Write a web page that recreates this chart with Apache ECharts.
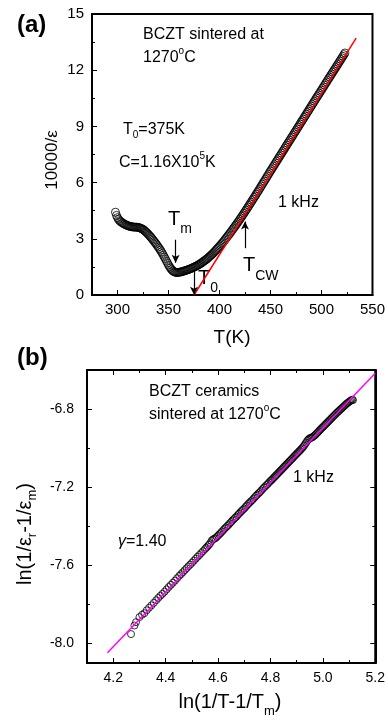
<!DOCTYPE html>
<html>
<head>
<meta charset="utf-8">
<script src="https://cdn.jsdelivr.net/npm/echarts@6/dist/echarts.min.js"></script>
<style>
  html, body { margin: 0; padding: 0; background: #fff; }
  #chart { width: 388px; height: 724px; }
</style>
</head>
<body>
<div id="chart"></div>
<script>
// ---------- Panel (a): 10000/ε vs temperature at 1 kHz ----------
const tempK = [
  298, 299, 300, 301, 302, 303, 304, 305, 306, 307, 308, 309, 310, 311, 312, 313, 314, 315, 316, 317,
  318, 319, 320, 321, 322, 323, 324, 325, 326, 327, 328, 329, 330, 331, 332, 333, 334, 335, 336, 337,
  338, 339, 340, 341, 342, 343, 344, 345, 346, 347, 348, 349, 350, 351, 352, 353, 354, 355, 356, 357,
  358, 359, 360, 361, 362, 363, 364, 365, 366, 367, 368, 369, 370, 371, 372, 373, 374, 375, 376, 377,
  378, 379, 380, 381, 382, 383, 384, 385, 386, 387, 388, 389, 390, 391, 392, 393, 394, 395, 396, 397,
  398, 399, 400, 401, 402, 403, 404, 405, 406, 407, 408, 409, 410, 411, 412, 413, 414, 415, 416, 417,
  418, 419, 420, 421, 422, 423, 424, 425, 426, 427, 428, 429, 430, 431, 432, 433, 434, 435, 436, 437,
  438, 439, 440, 441, 442, 443, 444, 445, 446, 447, 448, 449, 450, 451, 452, 453, 454, 455, 456, 457,
  458, 459, 460, 461, 462, 463, 464, 465, 466, 467, 468, 469, 470, 471, 472, 473, 474, 475, 476, 477,
  478, 479, 480, 481, 482, 483, 484, 485, 486, 487, 488, 489, 490, 491, 492, 493, 494, 495, 496, 497,
  498, 499, 500, 501, 502, 503, 504, 505, 506, 507, 508, 509, 510, 511, 512, 513, 514, 515, 516, 517,
  518, 519, 520, 521, 522, 523];
const invEps = [
  4.42, 4.25, 4.13, 4.04, 3.97, 3.92, 3.88, 3.84, 3.81, 3.78, 3.75, 3.73, 3.70, 3.68, 3.67, 3.65, 3.64, 3.63, 3.63, 3.62,
  3.62, 3.62, 3.61, 3.60, 3.58, 3.56, 3.53, 3.50, 3.46, 3.41, 3.36, 3.31, 3.25, 3.19, 3.13, 3.07, 3.00, 2.93, 2.86, 2.79,
  2.72, 2.64, 2.56, 2.48, 2.40, 2.31, 2.22, 2.12, 2.02, 1.92, 1.81, 1.71, 1.60, 1.51, 1.43, 1.36, 1.30, 1.26, 1.23, 1.21,
  1.20, 1.20, 1.21, 1.22, 1.23, 1.24, 1.26, 1.28, 1.29, 1.31, 1.33, 1.35, 1.37, 1.39, 1.41, 1.44, 1.46, 1.49, 1.51, 1.54,
  1.57, 1.60, 1.63, 1.67, 1.70, 1.74, 1.78, 1.82, 1.86, 1.90, 1.94, 1.99, 2.04, 2.09, 2.14, 2.19, 2.24, 2.30, 2.36, 2.42,
  2.48, 2.54, 2.60, 2.66, 2.73, 2.79, 2.86, 2.93, 3.00, 3.07, 3.14, 3.21, 3.28, 3.35, 3.43, 3.50, 3.58, 3.65, 3.73, 3.80,
  3.88, 3.96, 4.04, 4.12, 4.20, 4.28, 4.36, 4.45, 4.53, 4.61, 4.70, 4.78, 4.87, 4.95, 5.04, 5.12, 5.21, 5.29, 5.38, 5.47,
  5.55, 5.64, 5.73, 5.82, 5.91, 6.00, 6.08, 6.17, 6.26, 6.35, 6.44, 6.53, 6.62, 6.70, 6.79, 6.88, 6.96, 7.05, 7.14, 7.22,
  7.31, 7.40, 7.48, 7.57, 7.66, 7.74, 7.83, 7.92, 8.00, 8.09, 8.18, 8.26, 8.35, 8.44, 8.52, 8.61, 8.70, 8.78, 8.87, 8.96,
  9.04, 9.13, 9.22, 9.30, 9.39, 9.48, 9.56, 9.65, 9.74, 9.82, 9.91, 10.00, 10.08, 10.17, 10.26, 10.34, 10.43, 10.52, 10.60, 10.69,
  10.77, 10.86, 10.94, 11.03, 11.11, 11.20, 11.29, 11.37, 11.46, 11.55, 11.63, 11.72, 11.80, 11.89, 11.97, 12.06, 12.14, 12.23, 12.31, 12.40,
  12.49, 12.57, 12.66, 12.74, 12.83, 12.92];
// Curie–Weiss line, T0 = 375 K, C = 1.16e5 K
const cwT = [375, 534];
const cwY = [0, 13.71];
// arrows: [T, from, to]
const arrowTm = [357, 2.95, 1.72];
const arrowT0 = [375, 1.35, 0.02];
const arrowTcw = [425, 2.5, 3.92];

// ---------- Panel (b): ln(1/ε_r − 1/ε_m) vs ln(T − T_m) ----------
const lnDT = [
  4.268, 4.281, 4.287, 4.300, 4.310, 4.319, 4.328, 4.337, 4.346, 4.355, 4.364, 4.372, 4.380, 4.388, 4.396, 4.404, 4.412, 4.420,
  4.428, 4.436, 4.444, 4.452, 4.459, 4.466, 4.473, 4.480, 4.487, 4.494, 4.501, 4.508, 4.515, 4.522, 4.529, 4.536, 4.543, 4.550,
  4.555, 4.560, 4.565, 4.570, 4.575, 4.580, 4.585, 4.590, 4.595, 4.600, 4.605, 4.610, 4.615, 4.620, 4.625, 4.630, 4.635, 4.640,
  4.645, 4.650, 4.655, 4.660, 4.665, 4.670, 4.675, 4.680, 4.685, 4.690, 4.695, 4.700, 4.705, 4.710, 4.715, 4.720, 4.725, 4.730,
  4.735, 4.740, 4.745, 4.750, 4.755, 4.760, 4.765, 4.770, 4.775, 4.780, 4.785, 4.790, 4.795, 4.800,
  4.804, 4.808, 4.812, 4.816, 4.820, 4.824, 4.828, 4.832, 4.836, 4.840, 4.844, 4.848, 4.852, 4.856, 4.860, 4.864, 4.868, 4.872,
  4.876, 4.880, 4.884, 4.888, 4.892, 4.896, 4.900, 4.904, 4.908, 4.912, 4.916, 4.920, 4.924, 4.928, 4.932, 4.936, 4.940, 4.944,
  4.948, 4.952, 4.956, 4.960, 4.964, 4.968, 4.972, 4.976, 4.980, 4.984, 4.988, 4.992, 4.996, 5.000, 5.004, 5.008, 5.012, 5.016,
  5.020, 5.024, 5.028, 5.032, 5.036, 5.040, 5.044, 5.048, 5.052, 5.056, 5.060, 5.064, 5.068, 5.072, 5.076, 5.080, 5.084, 5.088,
  5.092, 5.096, 5.100, 5.104, 5.108, 5.112, 5.115];
const lnDEps = [
  -7.952, -7.908, -7.891, -7.865, -7.853, -7.845, -7.830, -7.817, -7.805, -7.792, -7.779, -7.767, -7.756, -7.746, -7.735, -7.723, -7.711, -7.700,
  -7.689, -7.678, -7.666, -7.654, -7.645, -7.635, -7.625, -7.615, -7.605, -7.596, -7.586, -7.576, -7.566, -7.556, -7.547, -7.537, -7.527, -7.517,
  -7.510, -7.503, -7.495, -7.487, -7.475, -7.468, -7.464, -7.461, -7.455, -7.448, -7.441, -7.435, -7.427, -7.420, -7.412, -7.406, -7.399, -7.393,
  -7.385, -7.378, -7.370, -7.364, -7.357, -7.351, -7.343, -7.336, -7.328, -7.322, -7.315, -7.309, -7.301, -7.294, -7.286, -7.280, -7.273, -7.267,
  -7.259, -7.252, -7.244, -7.238, -7.231, -7.225, -7.217, -7.210, -7.202, -7.196, -7.189, -7.183, -7.175, -7.168,
  -7.164, -7.158, -7.152, -7.147, -7.141, -7.136, -7.130, -7.124, -7.119, -7.113, -7.108, -7.102, -7.096, -7.091, -7.085, -7.080, -7.074, -7.068,
  -7.063, -7.057, -7.052, -7.046, -7.040, -7.035, -7.029, -7.024, -7.018, -7.013, -7.007, -7.001, -6.995, -6.988, -6.980, -6.972, -6.963, -6.957,
  -6.951, -6.948, -6.947, -6.944, -6.940, -6.936, -6.931, -6.925, -6.920, -6.914, -6.908, -6.903, -6.897, -6.892, -6.887, -6.881, -6.876, -6.870,
  -6.865, -6.859, -6.854, -6.848, -6.843, -6.837, -6.832, -6.827, -6.821, -6.816, -6.811, -6.806, -6.801, -6.796, -6.791, -6.786, -6.781, -6.776,
  -6.771, -6.767, -6.763, -6.759, -6.755, -6.752, -6.754];
// linear fit, slope γ = 1.40
const fitX = [4.178, 5.2];
const fitY = [-8.048, -6.617];

// ---------- tick values ----------
const aXTicks = [300, 350, 400, 450, 500, 550];
const aXMinor = [325, 375, 425, 475, 525];
const bXTicks = [4.2, 4.4, 4.6, 4.8, 5.0, 5.2];
const bXMinor = [4.3, 4.5, 4.7, 4.9, 5.1];
const bYTicks = [-8.0, -7.6, -7.2, -6.8];
const bYMinor = [-7.8, -7.4, -7.0, -6.6];

const FONT = '"Liberation Sans", Arial, Helvetica, sans-serif';
const BLACK = '#000';

const measureCtx = document.createElement('canvas').getContext('2d');
function measure(text, font) { measureCtx.font = font; return measureCtx.measureText(text).width; }

// a run of text pieces [text, size, dy, style] laid out left to right
function textRun(pieces, x, y, anchor, rotation) {
  let w = 0;
  const kids = [];
  pieces.forEach(p => {
    const [t, size, dy = 0, style = ''] = p;
    const font = (style ? style + ' ' : '') + size + 'px ' + FONT;
    kids.push({ type: 'text', x: w, y: dy, style: { text: t, font: font, fill: BLACK, textAlign: 'left', textVerticalAlign: 'middle' } });
    w += measure(t, font);
  });
  if (anchor === 'center') kids.forEach(k => { k.x -= w / 2; });
  return { type: 'group', x: x, y: y, rotation: rotation || 0, silent: true, children: kids };
}

const lineCol = { color: BLACK, width: 2 };
const tickStyle = { color: BLACK, width: 1 };
function majorAxis(grid, pos, extra) {
  return Object.assign({
    type: 'value', gridIndex: grid, position: pos,
    axisLine: { show: true, onZero: false, lineStyle: lineCol },
    axisTick: { show: true, inside: true, length: 5, lineStyle: tickStyle },
    axisLabel: { show: false },
    splitLine: { show: false }
  }, extra);
}
function minorAxis(grid, pos, extra) {
  return Object.assign({
    type: 'value', gridIndex: grid, position: pos,
    axisLine: { show: false, onZero: false },
    axisTick: { show: true, inside: true, length: 3, lineStyle: tickStyle },
    axisLabel: { show: false },
    splitLine: { show: false }
  }, extra);
}
const fmt1 = v => v.toFixed(1);

const aX = { min: 275, max: 550 };
const bX = { min: 4.1, max: 5.2 };
const bY = { min: -8.1, max: -6.6 };

const option = {
  animation: false,
  backgroundColor: '#fff',
  textStyle: { fontFamily: FONT },
  grid: [
    { left: 92, top: 14, width: 283, height: 281, show: true, borderColor: BLACK, borderWidth: 2, backgroundColor: 'transparent' },
    { left: 87, top: 370, width: 290, height: 293, show: true, borderColor: BLACK, borderWidth: 2, backgroundColor: 'transparent' }
  ],
  xAxis: [
    majorAxis(0, 'bottom', Object.assign({}, aX, {
      axisTick: { show: true, inside: true, length: 5, customValues: aXTicks, lineStyle: tickStyle },
      axisLabel: { show: true, customValues: aXTicks, color: BLACK, fontSize: 15, margin: 7, fontFamily: FONT }
    })),
    minorAxis(0, 'bottom', Object.assign({}, aX, {
      axisTick: { show: true, inside: true, length: 3, customValues: aXMinor, lineStyle: tickStyle }
    })),
    majorAxis(1, 'bottom', Object.assign({}, bX, {
      axisTick: { show: true, inside: true, length: 5, customValues: bXTicks, lineStyle: tickStyle },
      axisLabel: { show: true, customValues: bXTicks, formatter: fmt1, color: BLACK, fontSize: 14, margin: 8, fontFamily: FONT }
    })),
    minorAxis(1, 'bottom', Object.assign({}, bX, {
      axisTick: { show: true, inside: true, length: 3, customValues: bXMinor, lineStyle: tickStyle }
    })),
    majorAxis(1, 'top', Object.assign({}, bX, {
      axisTick: { show: true, inside: true, length: 5, customValues: bXTicks, lineStyle: tickStyle }
    })),
    minorAxis(1, 'top', Object.assign({}, bX, {
      axisTick: { show: true, inside: true, length: 3, customValues: bXMinor, lineStyle: tickStyle }
    }))
  ],
  yAxis: [
    majorAxis(0, 'left', {
      min: 0, max: 15, interval: 3,
      axisLabel: { show: true, color: BLACK, fontSize: 15, margin: 8, fontFamily: FONT },
      minorTick: { show: true, splitNumber: 2, length: 3, lineStyle: tickStyle },
      minorSplitLine: { show: false }
    }),
    majorAxis(1, 'left', Object.assign({}, bY, {
      axisTick: { show: true, inside: true, length: 5, customValues: bYTicks, lineStyle: tickStyle },
      axisLabel: { show: true, customValues: bYTicks, formatter: fmt1, color: BLACK, fontSize: 14, margin: 13, fontFamily: FONT }
    })),
    minorAxis(1, 'left', Object.assign({}, bY, {
      axisTick: { show: true, inside: true, length: 3, customValues: bYMinor, lineStyle: tickStyle }
    })),
    majorAxis(1, 'right', Object.assign({}, bY, {
      axisTick: { show: true, inside: true, length: 5, customValues: bYTicks, lineStyle: tickStyle }
    })),
    minorAxis(1, 'right', Object.assign({}, bY, {
      axisTick: { show: true, inside: true, length: 3, customValues: bYMinor, lineStyle: tickStyle }
    }))
  ],
  series: [
    {
      type: 'scatter', xAxisIndex: 0, yAxisIndex: 0,
      data: tempK.map((t, i) => [t, invEps[i]]),
      symbol: 'circle', symbolSize: 8,
      itemStyle: { color: 'rgba(0,0,0,0)', borderColor: BLACK, borderWidth: 1 },
      silent: true,
      markLine: {
        silent: true,
        symbol: ['none', 'arrow'], symbolSize: [6, 8],
        label: { show: false },
        lineStyle: { color: BLACK, width: 1.2, type: 'solid' },
        data: [arrowTm, arrowT0, arrowTcw].map(a => [{ coord: [a[0], a[1]] }, { coord: [a[0], a[2]] }])
      }
    },
    {
      type: 'line', xAxisIndex: 0, yAxisIndex: 0,
      data: cwT.map((t, i) => [t, cwY[i]]),
      showSymbol: false, symbol: 'none', silent: true,
      lineStyle: { color: '#ff0000', width: 1.5 }
    },
    {
      type: 'scatter', xAxisIndex: 2, yAxisIndex: 1,
      data: lnDT.map((x, i) => [x, lnDEps[i]]),
      symbol: 'circle', symbolSize: 7,
      itemStyle: { color: 'rgba(0,0,0,0)', borderColor: BLACK, borderWidth: 1 },
      silent: true
    },
    {
      type: 'line', xAxisIndex: 2, yAxisIndex: 1,
      data: fitX.map((x, i) => [x, fitY[i]]),
      showSymbol: false, symbol: 'none', silent: true,
      lineStyle: { color: '#ff00ff', width: 1.5 }
    }
  ],
  graphic: [
    // panel tags
    textRun([['(a)', 24, 0, 'bold']], 17, 25),
    textRun([['(b)', 24, 0, 'bold']], 17, 358),
    // panel (a) annotations
    textRun([['BCZT sintered at', 16]], 143, 35),
    textRun([['1270', 16], ['o', 10, -7], ['C', 16]], 143, 58),
    textRun([['T', 16], ['0', 10, 5], ['=375K', 16]], 123, 130),
    textRun([['C=1.16X10', 16], ['5', 10, -7], ['K', 16]], 119, 163),
    textRun([['1 kHz', 16]], 278, 203),
    textRun([['T', 20], ['m', 14, 10]], 168, 219),
    textRun([['T', 20], ['0', 14, 10]], 198, 278),
    textRun([['T', 20], ['CW', 14, 11]], 243, 265),
    // panel (a) axis titles
    textRun([['10000/ε', 17]], 52, 160, 'center', Math.PI / 2),
    textRun([['T(K)', 19]], 232, 338, 'center'),
    // panel (b) annotations
    textRun([['BCZT ceramics', 16]], 149, 392),
    textRun([['sintered at 1270', 16], ['o', 10, -7], ['C', 16]], 149, 415),
    textRun([['1 kHz', 16]], 293, 478),
    textRun([['γ', 16, 0, 'italic'], ['=1.40', 16]], 118, 542),
    // panel (b) axis titles
    textRun([['ln(1/ε', 20], ['r', 13, 7], ['-1/ε', 20], ['m', 13, 7], [')', 20]], 25, 534, 'center', Math.PI / 2),
    textRun([['ln(1/T-1/T', 20], ['m', 13, 9], [')', 20]], 230, 702, 'center')
  ]
};

const chart = echarts.init(document.getElementById('chart'), null, { renderer: 'canvas' });
chart.setOption(option);
</script>
</body>
</html>
